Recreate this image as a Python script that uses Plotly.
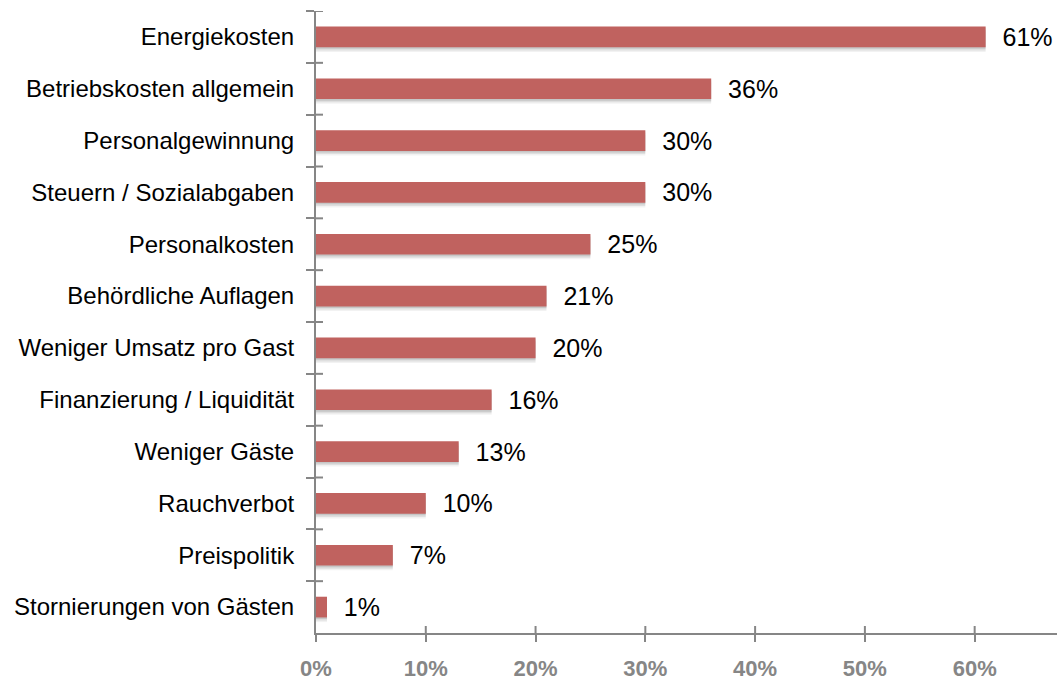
import plotly.graph_objects as go

# Survey: biggest challenges for businesses (share of respondents, %)
categories = [
    "Energiekosten",
    "Betriebskosten allgemein",
    "Personalgewinnung",
    "Steuern / Sozialabgaben",
    "Personalkosten",
    "Behördliche Auflagen",
    "Weniger Umsatz pro Gast",
    "Finanzierung / Liquidität",
    "Weniger Gäste",
    "Rauchverbot",
    "Preispolitik",
    "Stornierungen von Gästen",
]
values = [61, 36, 30, 30, 25, 21, 20, 16, 13, 10, 7, 1]
x_ticks = [0, 10, 20, 30, 40, 50, 60]
x_tick_labels = ["0%", "10%", "20%", "30%", "40%", "50%", "60%"]

AXIS_GRAY = "#868686"
BAR_RED = "#C0625F"
FONT = "Liberation Sans, Arial, sans-serif"
INNER_TICK = 7  # px length of the tick half inside the plot area

n = len(categories)
boundaries = [i - 0.5 for i in range(n + 1)]

fig = go.Figure()

# soft drop shadow under each bar
for shift, alpha in [(0.09, 0.05), (0.06, 0.08), (0.03, 0.11)]:
    fig.add_trace(go.Bar(
        x=values, y=categories, orientation="h",
        width=0.4, offset=-0.2 + shift,
        marker=dict(color=f"rgba(0,0,0,{alpha})", line=dict(width=0)),
        hoverinfo="skip", showlegend=False,
    ))

# main bars with value labels
fig.add_trace(go.Bar(
    x=values, y=categories, orientation="h",
    width=0.4, offset=-0.2,
    marker=dict(color=BAR_RED, line=dict(width=0)),
    text=[f"  {v}%" for v in values],
    textposition="outside",
    constraintext="none",
    textfont=dict(family=FONT, size=25, color="#000000"),
    cliponaxis=False,
    showlegend=False,
))

# inner halves of the crossing tick marks
tick_style = dict(type="line", line=dict(color=AXIS_GRAY, width=2), layer="above")
for b in boundaries[:-1]:
    fig.add_shape(xref="x", yref="y", xsizemode="pixel", xanchor=0,
                  x0=0, x1=INNER_TICK, y0=b, y1=b, **tick_style)
for t in x_ticks[1:]:
    fig.add_shape(xref="x", yref="y domain", ysizemode="pixel", yanchor=0,
                  x0=t, x1=t, y0=0, y1=INNER_TICK, **tick_style)

fig.update_layout(
    width=1057, height=684,
    margin=dict(l=316, r=0, t=11, b=51),
    paper_bgcolor="white", plot_bgcolor="white",
    barmode="overlay",
    font=dict(family=FONT, color="#000000"),
    xaxis=dict(
        range=[0, 67.5], tickvals=x_ticks, ticktext=x_tick_labels,
        showgrid=False, zeroline=False,
        showline=True, linecolor=AXIS_GRAY, linewidth=2,
        ticks="outside", ticklen=7, tickwidth=2, tickcolor=AXIS_GRAY,
        tickfont=dict(family=FONT, size=22, color=AXIS_GRAY, weight="bold"),
        ticklabelstandoff=8,
    ),
    yaxis=dict(
        type="category", categoryorder="array", categoryarray=categories,
        range=[n - 0.5, -0.5],
        showgrid=False, zeroline=False,
        showline=True, linecolor=AXIS_GRAY, linewidth=2,
        ticks="outside", tickson="boundaries", ticklen=8, tickwidth=2,
        tickcolor=AXIS_GRAY,
        tickfont=dict(family=FONT, size=24, color="#000000"),
        ticklabelstandoff=15,
    ),
)

fig.write_html("out.html")
